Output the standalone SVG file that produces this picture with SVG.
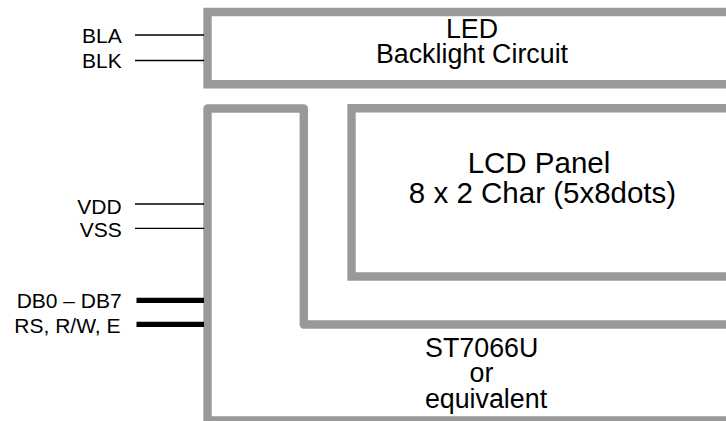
<svg xmlns="http://www.w3.org/2000/svg" width="726" height="421" viewBox="0 0 726 421">
<style>
.box{fill:none;stroke:#999999;stroke-width:8.4}
.pin{stroke:#000;stroke-width:1.3;fill:none}
.bus{stroke:#000;stroke-width:5.2;fill:none}
text{font-family:"Liberation Sans",Arial,sans-serif;fill:#000}
.lbl{font-size:21px;text-anchor:end}
.big{font-size:26.8px;text-anchor:middle}
.lcd{font-size:29.5px;text-anchor:middle}
</style>
<rect width="726" height="421" fill="#fff"/>
<g id="led-backlight">
<path class="box" d="M740,12 H207.5 V84.3 H740" stroke-linejoin="miter"/>
<text class="big" x="472" y="38.3">LED</text>
<text class="big" x="472" y="63.3">Backlight Circuit</text>
</g>
<g id="st7066u">
<path class="box" d="M740,324.5 H303.8 V108.5 H207.5 V420.5 H740" stroke-linejoin="round"/>
<text class="big" x="481.7" y="357.3">ST7066U</text>
<text class="big" x="481.5" y="382">or</text>
<text class="big" x="486" y="408.3">equivalent</text>
</g>
<g id="lcd-panel">
<path class="box" d="M740,108.3 H351.5 V276.5 H740"/>
<text class="lcd" x="539" y="173.3">LCD Panel</text>
<text class="lcd" x="542.5" y="203.3">8 x 2 Char (5x8dots)</text>
</g>
<g id="labels">
<text class="lbl" x="121.7" y="43.3">BLA</text>
<text class="lbl" x="121.7" y="68.3">BLK</text>
<text class="lbl" x="121.7" y="213.6">VDD</text>
<text class="lbl" x="121.7" y="236.7">VSS</text>
<text class="lbl" x="121.7" y="308.3">DB0 – DB7</text>
<text class="lbl" x="120.5" y="333.3">RS, R/W, E</text>
</g>
<g id="connectors">
<line class="pin" x1="135" y1="35" x2="204" y2="35"/>
<line class="pin" x1="135" y1="60.5" x2="204" y2="60.5"/>
<line class="pin" x1="135" y1="204" x2="204" y2="204"/>
<line class="pin" x1="135" y1="228.3" x2="204" y2="228.3"/>
<line class="bus" x1="136.5" y1="300.3" x2="204" y2="300.3"/>
<line class="bus" x1="136.5" y1="324.3" x2="204" y2="324.3"/>
</g>
</svg>
